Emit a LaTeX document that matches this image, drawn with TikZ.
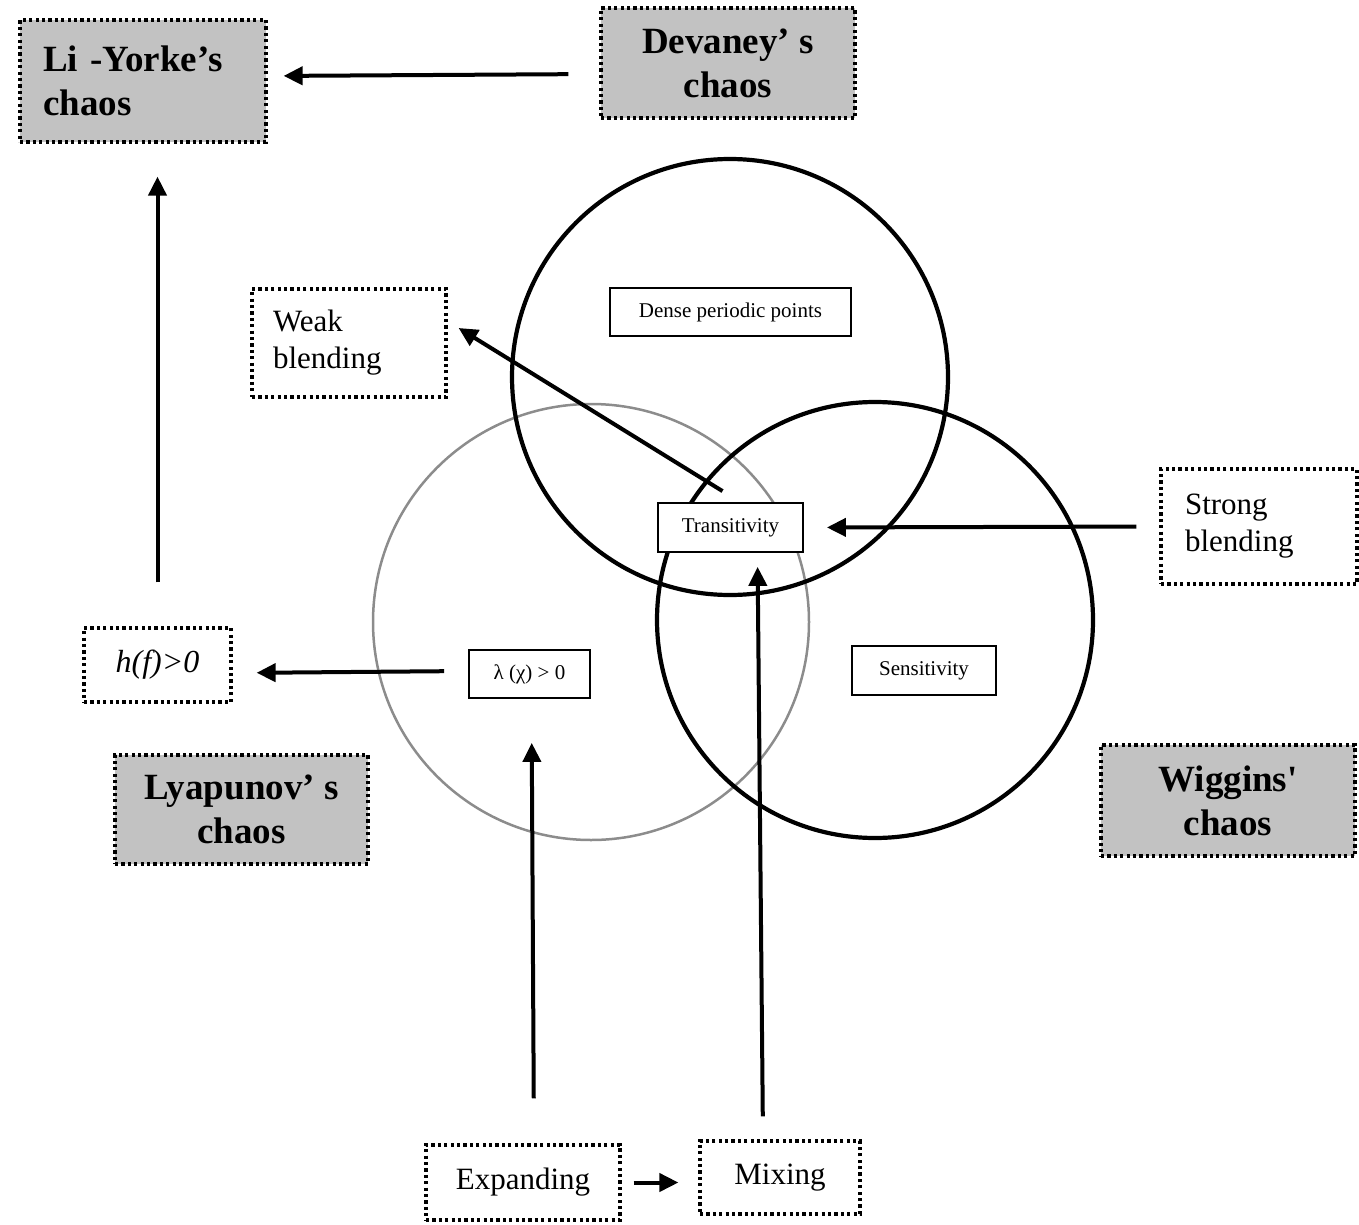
\documentclass[tikz,border=0pt]{standalone}
\usepackage{fontspec}
\setmainfont{Liberation Serif}
\usetikzlibrary{arrows.meta}
\begin{document}
\begin{tikzpicture}[x=1pt,y=-1pt,
  venn/.style={circle, draw, line width=4.2pt, minimum size=436pt, inner sep=0pt},
  vennthin/.style={circle, draw=black!45, line width=2.5pt, minimum size=436pt, inner sep=0pt},
  dotbox/.style={draw, line width=3.2pt, dash pattern=on 3.2pt off 3.2pt, inner ysep=0pt},
  gbox/.style={dotbox, fill=black!24, font=\fontsize{37}{44}\selectfont\bfseries},
  wbox/.style={dotbox, fill=white, font=\fontsize{31}{37}\selectfont},
  sbox/.style={draw, line width=1.8pt, fill=white, inner sep=0pt, font=\fontsize{21}{24}\selectfont},
  arr/.style={line width=4pt, -{Triangle[length=19pt,width=18pt]}}
]
\useasboundingbox (0,0) rectangle (1359,1225);
% circles
\node[vennthin] (cL) at (591,622) {};
\node[venn] (cT) at (730,377) {};
\node[venn] (cR) at (875,620) {};
% grey chaos boxes
\node[gbox, text width=200pt, inner xsep=23pt, minimum height=122pt, align=left] (ly) at (143,81) {Li -Yorke’s\\chaos};
\node[gbox, minimum width=254pt, minimum height=110pt, align=center] (dev) at (728,63) {Devaney’ s\\chaos};
\node[gbox, minimum width=253pt, minimum height=109pt, align=center] (lya) at (241.5,809.5) {Lyapunov’ s\\chaos};
\node[gbox, minimum width=254pt, minimum height=111pt, align=center] (wig) at (1228,800.5) {Wiggins\textquotesingle\\chaos};
% dotted white boxes
\node[wbox, text width=152pt, inner xsep=21pt, minimum height=108pt, align=left] (weak) at (349,343) {Weak\\blending};
\node[wbox, text width=148pt, inner xsep=24pt, minimum height=115pt, align=left] (strong) at (1259,526.5) {Strong\\blending};
\node[wbox, minimum width=147pt, minimum height=74pt, font=\fontsize{32}{37}\selectfont\itshape] (hf) at (157.5,665) {h(f)>0};
\node[wbox, minimum width=194pt, minimum height=75pt] (exp) at (523,1182.5) {Expanding};
\node[wbox, minimum width=160pt, minimum height=73pt] (mix) at (780,1177.5) {Mixing};
% solid small boxes
\node[sbox, minimum width=241pt, minimum height=48pt] (dpp) at (730.5,312) {Dense periodic points};
\node[sbox, minimum width=145pt, minimum height=49pt] (trans) at (730.5,527.5) {Transitivity};
\node[sbox, minimum width=144pt, minimum height=49pt] (sens) at (924,670.5) {Sensitivity};
\node[sbox, minimum width=121pt, minimum height=48pt] (lam) at (529.5,674) {λ (χ) > 0};
% arrows
\draw[arr, shorten <=31pt, shorten >=16pt] ([yshift=-11pt]dev.west) -- ([yshift=5pt]ly.east);
\draw[arr, shorten <=44pt, shorten >=33pt] (hf.north) -- (hf.north |- ly.south);
\draw[arr] ([xshift=-8pt,yshift=11pt]trans.north) -- ([xshift=11pt,yshift=15pt]weak.east);
\draw[arr, shorten <=23pt, shorten >=23pt] (strong.west) -- (trans.east);
\draw[arr, shorten <=24pt, shorten >=24pt] ([yshift=3pt]lam.west) -- ([yshift=-8pt]hf.east);
\draw[arr, shorten <=45pt, shorten >=44pt] ([xshift=11pt]exp.north) -- ([xshift=2pt]lam.south);
\draw[arr, shorten <=23pt, shorten >=14pt] ([xshift=-17pt]mix.north) -- ([xshift=27pt]trans.south);
\draw[arr, shorten <=12pt, shorten >=20pt] (exp.east) -- (exp.east -| mix.west);
\end{tikzpicture}
\end{document}
